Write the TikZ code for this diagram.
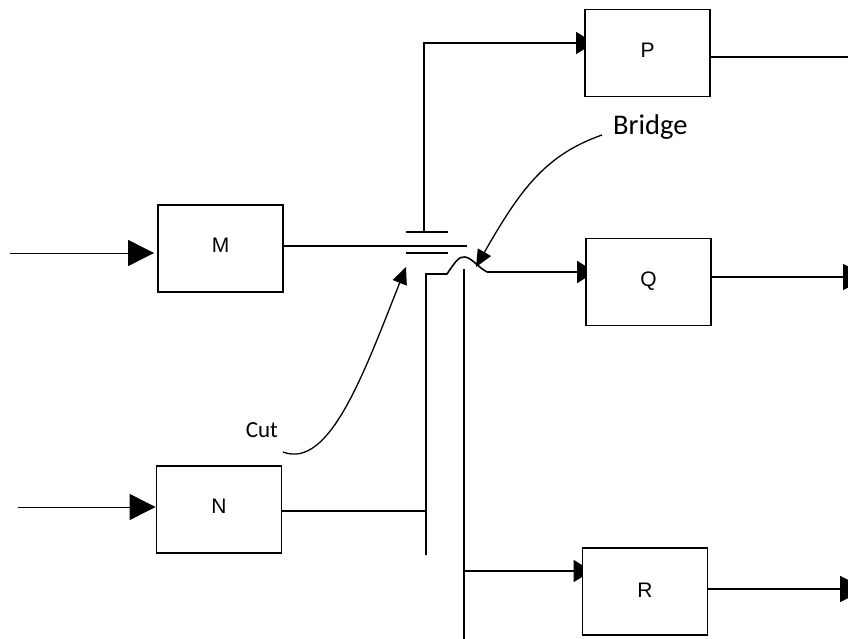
\documentclass[tikz,border=0pt]{standalone}
\usepackage{fontspec}
\setmainfont{Liberation Sans}
\newfontfamily\calib{Carlito}
\usetikzlibrary{arrows.meta,backgrounds}
\begin{document}
\begin{tikzpicture}[x=1pt,y=-1pt,
  blk/.style={draw,line width=1.8pt,fill=white,minimum width=125pt,minimum height=87pt,inner sep=0pt,font=\fontsize{21}{25}\selectfont},
  wire/.style={line width=1.6pt},
  thinwire/.style={line width=0.9pt},
  bigtip/.style={-{Triangle[length=26pt,width=26pt]}},
  boxtip/.style={-{Triangle[length=18pt,width=22pt]}},
  notetip/.style={line width=1.3pt,-{Triangle[length=17pt,width=15pt]}},
  note/.style={inner sep=0pt,font=\calib\fontsize{#1}{#1}\selectfont}]
\clip (0,0) rectangle (848,639);
% blocks
\node[blk] (M) at (220.5,248.5) {\raisebox{6pt}{M}};
\node[blk] (N) at (219,509.5) {\raisebox{6pt}{N}};
\node[blk] (P) at (647.5,53) {\raisebox{6pt}{P}};
\node[blk] (Q) at (648.5,282) {\raisebox{6pt}{Q}};
\node[blk] (R) at (645,591.5) {\raisebox{3pt}{R}};
% labels
\node[note=28.5,anchor=base west] (bridge) at (613,135) {Bridge};
\node[note=23,anchor=base east] (cut) at (278,437) {Cut};
% junction points
\coordinate (min) at (10,253);
\coordinate (nin) at (18,507);
\coordinate (cross) at (467,246);
\coordinate (tb1) at (406,232);
\coordinate (tb2) at (448,232);
\coordinate (bb1) at (406,253);
\coordinate (bb2) at (448,253);
\coordinate (ptop) at (424,233);
\coordinate (lb1) at (426,274);
\coordinate (lb2) at (426,555);
\coordinate (rb1) at (464,269);
\coordinate (rb2) at (464,650);
\coordinate (pout) at (874,57);
\coordinate (qout) at (869,277);
\coordinate (rout) at (866,589);
\coordinate (bridgetip) at (476,267);
\coordinate (cuttip) at (406,267);
\begin{scope}[on background layer]
  % inputs
  \draw[thinwire,bigtip,shorten >=3pt] (min) -- ([yshift=-4.5pt]M.west);
  \draw[thinwire,bigtip] (nin) -- ([yshift=2.5pt]N.west);
  % M output and crossing bars
  \draw[wire] ([yshift=2.5pt]M.east) -- (cross);
  \draw[wire] (tb1) -- (tb2);
  \draw[wire] (bb1) -- (bb2);
  % line up to P
  \draw[wire,boxtip] (ptop) |- ([xshift=10pt,yshift=10pt]P.west);
  % left bus with bridge hump to Q
  \draw[wire] (lb2) -- (lb1) -- (447,274)
     .. controls (455,262) and (459,256) .. (465,257)
     .. controls (472,258) and (479,268) .. (487,272);
  \draw[wire,boxtip] (487,272) -- ([xshift=10pt,yshift=10pt]Q.west);
  \draw[wire] ([yshift=-1.5pt]N.east) -- ([yshift=-1.5pt]N.east -| lb1);
  % right bus to R
  \draw[wire] (rb1) -- (rb2);
  \draw[wire,boxtip] ([yshift=20.5pt]R.west -| rb1) -- ([xshift=10pt,yshift=20.5pt]R.west);
  % outputs
  \draw[wire,bigtip] ([yshift=-4pt]P.east) -- (pout);
  \draw[wire,bigtip] ([yshift=5pt]Q.east) -- (qout);
  \draw[wire,bigtip] ([yshift=2.5pt]R.east) -- (rout);
  % annotation arrows
  \draw[notetip] ([xshift=-11pt]bridge.base west) .. controls (545,155) and (520,190) .. (bridgetip);
  \draw[notetip] ([shift={(5pt,-15pt)}]cut.base east) .. controls (330,470) and (365,370) .. (cuttip);
\end{scope}
\end{tikzpicture}
\end{document}
